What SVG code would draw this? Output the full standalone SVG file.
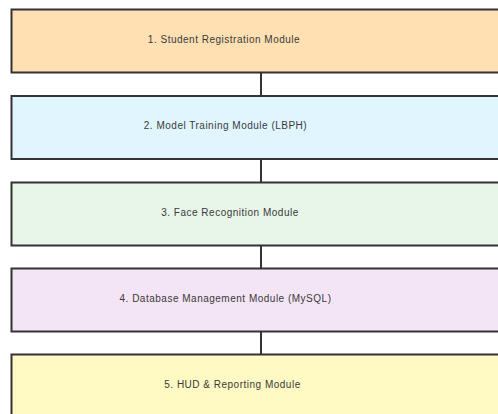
<svg xmlns="http://www.w3.org/2000/svg" width="498" height="414" viewBox="0 0 498 414">
<style>
.box{stroke:#333;stroke-width:2}
.lbl{font-family:"Liberation Sans",Arial,sans-serif;font-size:10px;letter-spacing:0.5px;fill:#3a3a3a;text-anchor:middle;dominant-baseline:central}
.conn{stroke:#333;stroke-width:2;fill:none}
</style>
<rect width="498" height="414" fill="#fff"/>
<g id="connectors">
<line class="conn" x1="261" y1="72.5" x2="261" y2="95.5"/>
<line class="conn" x1="261" y1="159" x2="261" y2="182"/>
<line class="conn" x1="261" y1="245.5" x2="261" y2="268"/>
<line class="conn" x1="261" y1="331.5" x2="261" y2="354"/>
</g>
<g id="n1"><rect class="box" x="11.5" y="9.5" width="500" height="63" fill="#FFE0B2"/><text class="lbl" x="224" y="39">1. Student Registration Module</text></g>
<g id="n2"><rect class="box" x="11.5" y="96" width="500" height="63" fill="#E1F5FE"/><text class="lbl" x="225.5" y="125.5">2. Model Training Module (LBPH)</text></g>
<g id="n3"><rect class="box" x="11.5" y="182.5" width="500" height="63" fill="#E8F5E9"/><text class="lbl" x="230" y="212">3. Face Recognition Module</text></g>
<g id="n4"><rect class="box" x="11.5" y="268.5" width="500" height="63" fill="#F3E5F5"/><text class="lbl" x="225.5" y="298">4. Database Management Module (MySQL)</text></g>
<g id="n5"><rect class="box" x="11.5" y="354.5" width="500" height="63" fill="#FFF9C4"/><text class="lbl" x="232.5" y="384">5. HUD &amp; Reporting Module</text></g>
</svg>
